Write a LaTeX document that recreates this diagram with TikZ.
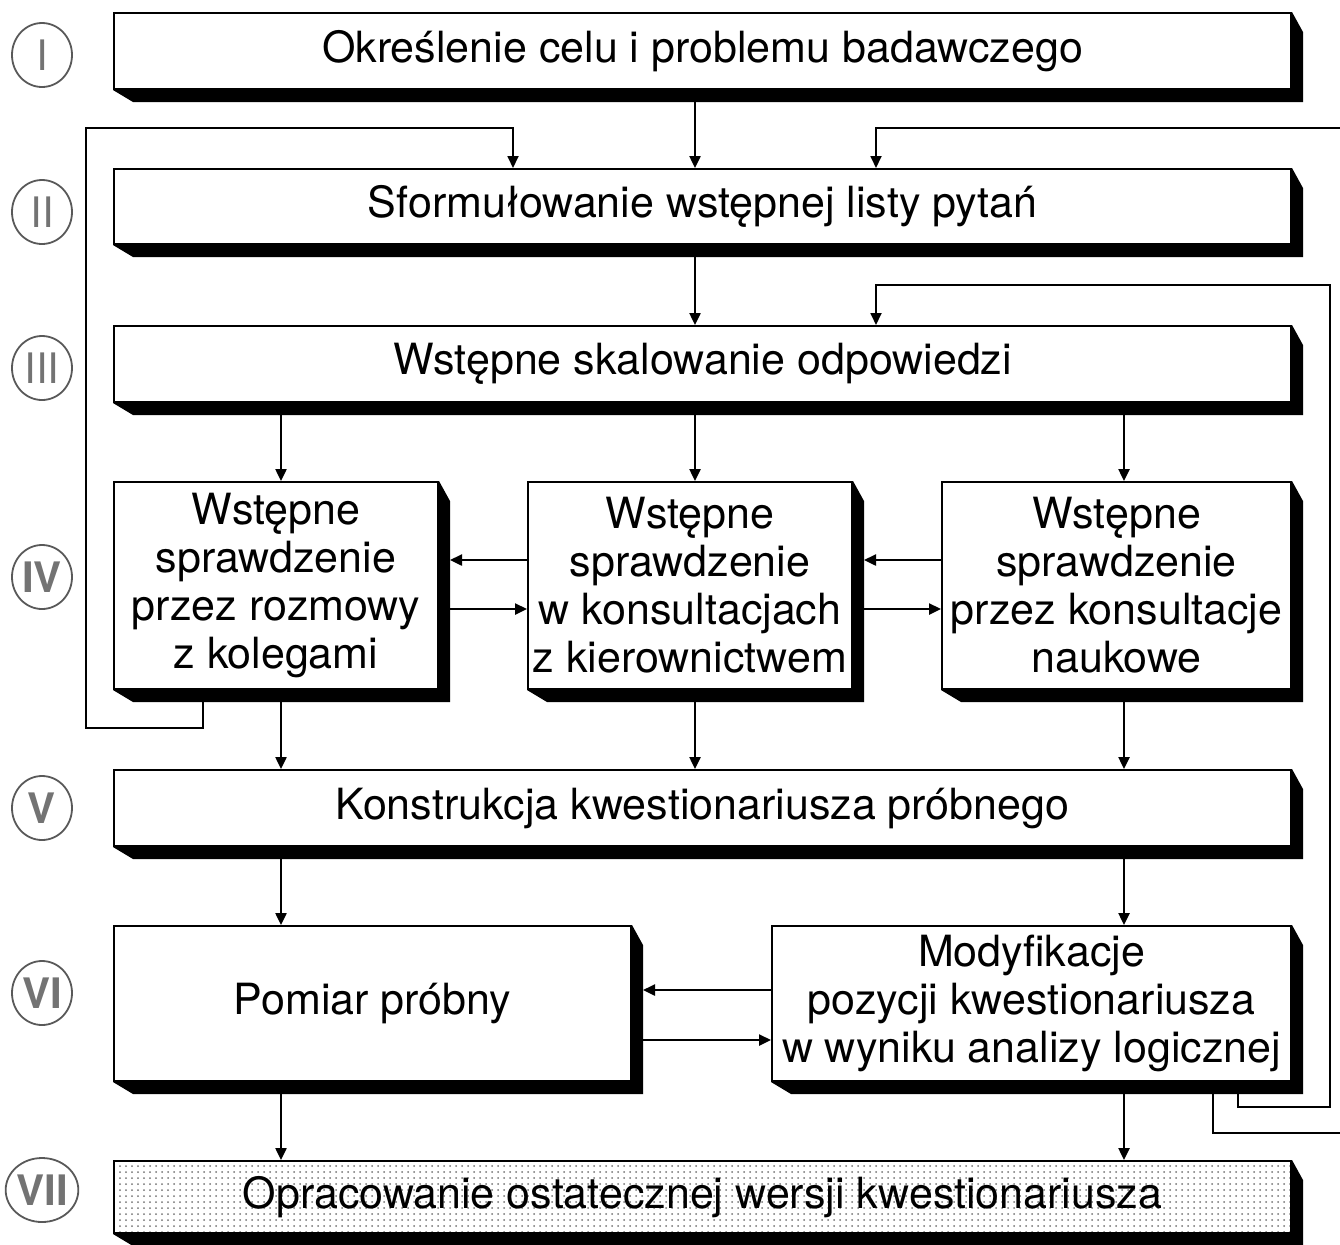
\documentclass[tikz,border=0pt]{standalone}
\usepackage{fontspec}
\setmainfont{TeX Gyre Heros}
\usetikzlibrary{arrows.meta,calc,backgrounds,patterns,shapes.geometric}
\newcommand\boxshadow[1]{\fill[black] (#1.north east) -- ++(11,20) -- ($(#1.south east)+(11,12)$) -- ($(#1.south west)+(20,12)$) -- (#1.south west) -- (#1.south east) -- cycle;}
\begin{document}
\begin{tikzpicture}[x=0.5pt,y=-0.5pt,
 box/.style={draw,line width=1pt,anchor=north west,inner sep=0pt,align=center,font=\fontsize{21.5}{24}\selectfont},
 wbox/.style={box,fill=white},
 arr/.style={line width=1.2pt,-{Triangle[length=6pt,width=5.5pt]}},
 fb/.style={line width=0.9pt,-{Triangle[length=6pt,width=5.5pt]}},
 numc/.style={ellipse,draw=black!65,line width=0.9pt,text=black!55,inner sep=0pt,minimum width=30pt,minimum height=32pt,font=\fontsize{21}{21}\selectfont},
 numb/.style={numc,font=\fontsize{21}{21}\selectfont\bfseries},
]
\useasboundingbox (0,0) rectangle (1340,1244);
% boxes
\node[wbox,minimum width=588.5pt,minimum height=38pt] (b1) at (113,12) {Określenie celu i problemu badawczego};
\node[wbox,minimum width=588.5pt,minimum height=37.5pt] (b2) at (113,168) {Sformułowanie wstępnej listy pytań};
\node[wbox,minimum width=588.5pt,minimum height=38pt] (b3) at (113,325) {Wstępne skalowanie odpowiedzi};
\node[wbox,minimum width=162pt,minimum height=103.5pt] (b4l) at (113,481) {Wstępne\\sprawdzenie\\przez rozmowy\\z kolegami};
\node[wbox,minimum width=162pt,minimum height=103.5pt] (b4m) at (527,481) {Wstępne\\sprawdzenie\\w konsultacjach\\z kierownictwem};
\node[wbox,minimum width=174.5pt,minimum height=103.5pt] (b4r) at (941,481) {Wstępne\\sprawdzenie\\przez konsultacje\\naukowe};
\node[wbox,minimum width=588.5pt,minimum height=38pt] (b5) at (113,769) {Konstrukcja kwestionariusza próbnego};
\node[wbox,minimum width=258.5pt,minimum height=77.5pt] (b6l) at (113,925) {Pomiar próbny};
\node[wbox,minimum width=259.5pt,minimum height=77.5pt] (b6r) at (771,925) {Modyfikacje\\pozycji kwestionariusza\\w wyniku analizy logicznej};
\node[box,minimum width=588.5pt,minimum height=36pt,pattern=dots,pattern color=black!55] (b7) at (113,1160) {Opracowanie ostatecznej wersji kwestionariusza};
\begin{scope}[on background layer]
\foreach \b in {b1,b2,b3,b4l,b4m,b4r,b5,b6l,b6r,b7}{\boxshadow{\b}}
\end{scope}
% numerals
\node[numc] (n1) at (42,55) {I};
\node[numc] (n2) at (42,212) {II};
\node[numc] (n3) at (42,368) {III};
\node[numb] (n4) at (42,577) {IV};
\node[numb] (n5) at (42,808) {V};
\node[numb] (n6) at (42,993) {VI};
\node[numb] (n7) at (42,1190) {VII};
% helper coordinates
\coordinate (xL) at (281,0);
\coordinate (xM) at (695,0);
\coordinate (xR) at (1124,0);
\coordinate (x513) at (513,0);
\coordinate (x876) at (876,0);
\coordinate (x203) at (203,0);
\coordinate (x1213) at (1213,0);
\coordinate (x1238) at (1238,0);
\coordinate (yA) at (0,560);
\coordinate (yB) at (0,609);
\coordinate (yC) at (0,990);
\coordinate (yD) at (0,1040);
% vertical arrows
\draw[arr] (b1.south -| xM) -- (b2.north -| xM);
\draw[arr] (b2.south -| xM) -- (b3.north -| xM);
\draw[arr] (b3.south -| xL) -- (b4l.north -| xL);
\draw[arr] (b3.south -| xM) -- (b4m.north -| xM);
\draw[arr] (b3.south -| xR) -- (b4r.north -| xR);
\draw[arr] (b4l.south -| xL) -- (b5.north -| xL);
\draw[arr] (b4m.south -| xM) -- (b5.north -| xM);
\draw[arr] (b4r.south -| xR) -- (b5.north -| xR);
\draw[arr] (b5.south -| xL) -- (b6l.north -| xL);
\draw[arr] (b5.south -| xR) -- (b6r.north -| xR);
\draw[arr] (b6l.south -| xL) -- (b7.north -| xL);
\draw[arr] (b6r.south -| xR) -- (b7.north -| xR);
% horizontal arrows
\draw[arr] (b4m.west |- yA) -- ($(b4l.east |- yA)+(11,0)$);
\draw[arr] ($(b4l.east |- yB)+(11,0)$) -- (b4m.west |- yB);
\draw[arr] (b4r.west |- yA) -- ($(b4m.east |- yA)+(11,0)$);
\draw[arr] ($(b4m.east |- yB)+(11,0)$) -- (b4r.west |- yB);
\draw[arr] (b6r.west |- yC) -- ($(b6l.east |- yC)+(11,0)$);
\draw[arr] ($(b6l.east |- yD)+(11,0)$) -- (b6r.west |- yD);
% feedback loops
\coordinate (L3) at (86,728);
\coordinate (L4) at (86,128);
\draw[fb] (b4l.south -| x203) |- (L3) -- (L4) -| (b2.north -| x513);
\coordinate (R1) at (1345,1133);
\coordinate (R2) at (1345,128);
\draw[fb] (b6r.south -| x1213) |- (R1) -- (R2) -| (b2.north -| x876);
\coordinate (Q1) at (1330,1107);
\coordinate (Q2) at (1330,285);
\draw[fb] (b6r.south -| x1238) |- (Q1) -- (Q2) -| (b3.north -| x876);
\end{tikzpicture}
\end{document}
